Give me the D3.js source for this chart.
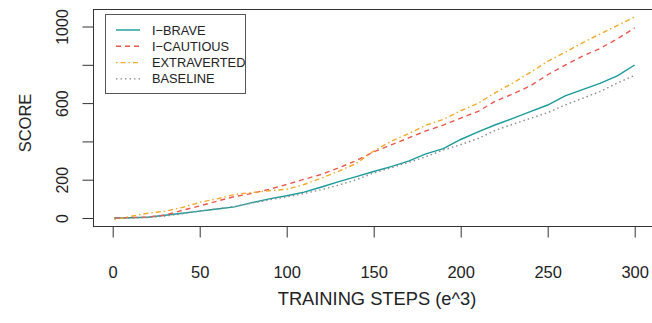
<!DOCTYPE html>
<html>
<head>
<meta charset="utf-8">
<script src="https://cdn.jsdelivr.net/npm/d3@7"></script>
<style>
  html, body { margin: 0; padding: 0; background: #fff; }
  svg text { font-family: "Liberation Sans", Arial, sans-serif; fill: #222; }
</style>
</head>
<body>
<div id="chart"></div>
<script>
// training steps (e^3) at which scores were read
const steps = [1, 10, 20, 30, 40, 50, 60, 70, 80, 90, 100, 110, 120, 130, 140, 150,
  160, 170, 180, 190, 200, 210, 220, 230, 240, 250, 260, 270, 280, 290, 300];

// series values
const iBrave = [0, 1, 4, 14, 25, 36, 47, 58, 80, 100, 116, 135, 162, 190, 216, 243,
  268, 297, 335, 362, 410, 450, 487, 520, 555, 590, 638, 670, 703, 742, 799];
const iCautious = [0, 2, 5, 15, 40, 63, 88, 112, 128, 150, 175, 202, 228, 262, 300, 345,
  382, 418, 455, 485, 522, 557, 610, 648, 690, 748, 798, 845, 885, 935, 993];
const extraverted = [-8, 8, 25, 35, 55, 82, 100, 123, 133, 142, 150, 175, 208, 245, 285, 350,
  400, 440, 485, 515, 560, 599, 655, 705, 760, 818, 865, 915, 960, 1005, 1050];
const baseline = [0, 0, 3, 10, 22, 37, 48, 60, 78, 95, 110, 128, 148, 172, 200, 235,
  262, 290, 320, 355, 383, 415, 458, 490, 520, 550, 590, 625, 660, 705, 745];

// tick labels
const xTicks = [0, 50, 100, 150, 200, 250, 300];
const yTicks = [0, 200, 400, 600, 800, 1000];
const yLabels = ['0', '200', '', '600', '', '1000'];

const seriesNames = ['I\u2212BRAVE', 'I\u2212CAUTIOUS', 'EXTRAVERTED', 'BASELINE'];
const seriesValues = [iBrave, iCautious, extraverted, baseline];
const seriesColors = ['#1a9a9a', '#e8584f', '#f2aa2a', '#8c8c8c'];
const seriesDash = [null, '5,4', '1.5,3,5,3', '1.5,3'];

const width = 652, height = 323;
const plot = {left: 93.5, top: 9.5, right: 660, bottom: 226.5};

const svg = d3.select('#chart')
  .append('svg')
    .attr('width', width)
    .attr('height', height);

// scales
const xScale = d3.scaleLinear().domain([0, 300]).range([112.7, 634.7]);
const yScale = d3.scaleLinear().domain([0, 1000]).range([218, 26.5]);

// plot box
svg.append('rect')
  .attr('x', plot.left)
  .attr('y', plot.top)
  .attr('width', plot.right - plot.left)
  .attr('height', plot.bottom - plot.top)
  .attr('fill', 'none')
  .attr('stroke', '#333')
  .attr('stroke-width', 1);

// x axis
const xAxis = svg.append('g')
  .attr('transform', `translate(0, ${plot.bottom})`)
  .call(d3.axisBottom(xScale).tickValues(xTicks).tickSize(11).tickPadding(0).tickFormat(d3.format('d')));
xAxis.select('.domain').remove();
xAxis.selectAll('.tick line').attr('stroke', '#333');
xAxis.selectAll('.tick text')
  .attr('y', 51.5)
  .attr('dy', 0)
  .attr('font-size', 16.5);

// y axis, labels rotated like R's default
const yAxis = svg.append('g')
  .attr('transform', `translate(${plot.left}, 0)`)
  .call(d3.axisLeft(yScale).tickValues(yTicks).tickSize(11).tickFormat((d, i) => yLabels[i]));
yAxis.select('.domain').remove();
yAxis.selectAll('.tick line').attr('stroke', '#333');
yAxis.selectAll('.tick text')
  .attr('x', 0)
  .attr('y', -26)
  .attr('dy', 0)
  .attr('transform', 'rotate(-90)')
  .attr('text-anchor', 'middle')
  .attr('font-size', 16);

// axis titles
svg.append('text')
  .attr('x', 377)
  .attr('y', 304.5)
  .attr('text-anchor', 'middle')
  .attr('font-size', 18.3)
  .text('TRAINING STEPS (e^3)');

svg.append('text')
  .attr('transform', 'translate(31, 123) rotate(-90)')
  .attr('text-anchor', 'middle')
  .attr('font-size', 16.5)
  .text('SCORE');

// lines
const line = d3.line()
  .x((d, i) => xScale(steps[i]))
  .y(d => yScale(d));

svg.append('g')
  .selectAll('path')
  .data(seriesValues)
  .join('path')
    .attr('d', line)
    .attr('fill', 'none')
    .attr('stroke', (d, i) => seriesColors[i])
    .attr('stroke-width', 1.4)
    .attr('stroke-dasharray', (d, i) => seriesDash[i]);

// legend
const legend = svg.append('g');
legend.append('rect')
  .attr('x', 105.5)
  .attr('y', 14.5)
  .attr('width', 140)
  .attr('height', 79)
  .attr('fill', '#fff')
  .attr('stroke', '#555');

const items = legend.selectAll('.item')
  .data(seriesNames)
  .join('g')
    .attr('class', 'item')
    .attr('transform', (d, i) => `translate(0, ${30 + i * 16.3})`);

items.append('line')
  .attr('x1', 116)
  .attr('x2', 140)
  .attr('stroke', (d, i) => seriesColors[i])
  .attr('stroke-width', 1.4)
  .attr('stroke-dasharray', (d, i) => seriesDash[i]);

items.append('text')
  .attr('x', 152)
  .attr('y', 4.5)
  .attr('font-size', 12.8)
  .text(d => d);
</script>
</body>
</html>
